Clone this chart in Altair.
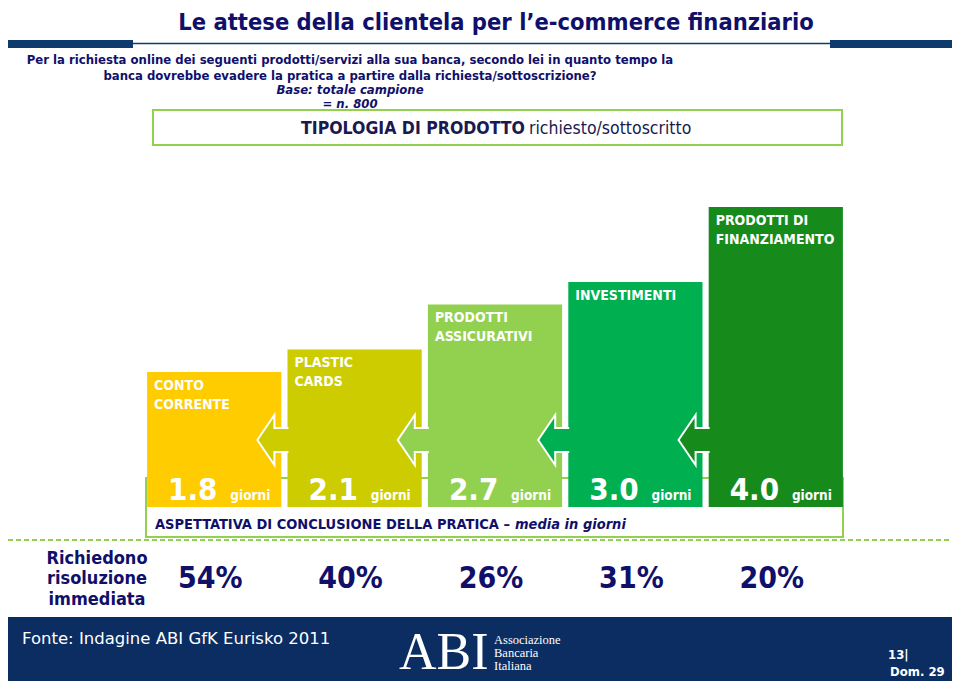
import altair as alt
import pandas as pd

# ---------------- data ----------------
categories = ["CONTO\nCORRENTE", "PLASTIC\nCARDS", "PRODOTTI\nASSICURATIVI",
              "INVESTIMENTI", "PRODOTTI DI\nFINANZIAMENTO"]
avg_days = [1.8, 2.1, 2.7, 3.0, 4.0]
immediate_pct = [54, 40, 26, 31, 20]
bar_colors = ["#FFCC00", "#CCCC00", "#92D050", "#00B050", "#168B1C"]

# ---------------- styling ----------------
W, H = 944, 673
F = "DejaVu Sans Condensed"
NAVY = "#10106A"
RULE = "#0E3A6D"
FOOT = "#0B2D62"
LGREEN = "#92D050"

df = pd.DataFrame({"cat": categories, "days": avg_days,
                   "pct": immediate_pct, "i": list(range(len(categories)))})
arrow_df = pd.DataFrame({"b": [i + 0.5 for i in range(len(categories) - 1)],
                         "cat": categories[1:]})

xscale = alt.Scale(domain=[-1.4687, 5.2550], nice=False, zero=False)
yscale = alt.Scale(domain=[-2.32, 6.6533], nice=False, zero=False)
cscale = alt.Scale(domain=categories, range=bar_colors)

base = alt.Chart(df).transform_calculate(
    x0="datum.i - 0.478", x1="datum.i + 0.478", plab="datum.pct + '%'")

one = pd.DataFrame({"k": [0]})


def T(text, x, y, size, weight="normal", style="normal", color=NAVY,
      align="left", baseline="alphabetic", font=F, **kw):
    return alt.Chart(one).mark_text(
        text=text, align=align, baseline=baseline, fontSize=size,
        fontWeight=weight, fontStyle=style, color=color, font=font, **kw
    ).encode(x=alt.value(x), y=alt.value(y))


def R(x, x2, y, y2, fill, stroke=None, sw=0):
    kw = dict(fill=fill, opacity=1)
    if stroke:
        kw.update(stroke=stroke, strokeWidth=sw)
    return alt.Chart(one).mark_rect(**kw).encode(
        x=alt.value(x), x2=alt.value(x2), y=alt.value(y), y2=alt.value(y2))


def L(x, x2, y, color, sw=1, dash=None):
    kw = dict(color=color, strokeWidth=sw)
    if dash:
        kw["strokeDash"] = dash
    return alt.Chart(one).mark_rule(**kw).encode(
        x=alt.value(x), x2=alt.value(x2), y=alt.value(y))


layers = []
# header rule
layers += [R(0, 125, 32, 40, RULE), R(822, W, 32, 40, RULE), L(125, 822, 35.5, RULE, 1.5)]
# title and question
layers += [
    T("Le attese della clientela per l’e-commerce finanziario", 488, 22, 23.5,
      weight="bold", align="center"),
    T("Per la richiesta online dei seguenti prodotti/servizi alla sua banca, secondo lei in quanto tempo la",
      342, 56, 13, weight="bold", align="center"),
    T("banca dovrebbe evadere la pratica a partire dalla richiesta/sottoscrizione?",
      342, 72, 13, weight="bold", align="center"),
    T("Base: totale campione", 342, 86, 13, weight="bold", style="italic", align="center"),
    T("= n. 800", 342, 100, 13, weight="bold", style="italic", align="center"),
]
# TIPOLOGIA box
layers += [
    R(145, 834, 102, 137, "white", LGREEN, 2),
    T("TIPOLOGIA DI PRODOTTO", 517, 126, 17.5, weight="bold", align="right", color="#1A1A50"),
    T("richiesto/sottoscritto", 521, 126, 17.5, align="left", color="#1A1A50"),
]
# ASPETTATIVA box (behind bars)
layers += [R(138, 835, 470, 529, "white", LGREEN, 2)]

# bars
bars = base.mark_rect(opacity=1).encode(
    x=alt.X("x0:Q", scale=xscale, axis=None),
    x2="x1:Q",
    y=alt.Y("days:Q", scale=yscale, axis=None),
    y2=alt.datum(0),
    color=alt.Color("cat:N", scale=cscale, legend=None),
)
ARROW = ("M 0.154 -0.46 L -0.385 -0.46 L -0.385 -0.96 L -1.04 0 "
         "L -0.385 0.96 L -0.385 0.46 L 0.154 0.46")
arrows = alt.Chart(arrow_df).mark_point(
    shape=ARROW, size=2704, filled=True, stroke="white", strokeWidth=2,
    strokeOpacity=1, fillOpacity=1, opacity=1,
).encode(
    x=alt.X("b:Q", scale=xscale, axis=None),
    y=alt.value(432),
    fill=alt.Fill("cat:N", scale=cscale, legend=None),
)
cat_labels = base.mark_text(
    align="left", baseline="top", dx=7, dy=7, lineBreak="\n", lineHeight=19,
    font=F, fontSize=14, fontWeight="bold", color="white",
).encode(x=alt.X("x0:Q", scale=xscale), y=alt.Y("days:Q", scale=yscale), text="cat:N")
num_labels = base.mark_text(
    align="left", baseline="alphabetic", dx=21, dy=-7, font=F, fontSize=31,
    fontWeight="bold", color="white",
).encode(x=alt.X("x0:Q", scale=xscale), y=alt.datum(0),
         text=alt.Text("days:Q", format=".1f"))
giorni = base.mark_text(
    text="giorni", align="right", baseline="alphabetic", dx=-11, dy=-7, font=F,
    fontSize=13.5, fontWeight="bold", color="white",
).encode(x=alt.X("x1:Q", scale=xscale), y=alt.datum(0))
pct_labels = base.mark_text(
    align="center", baseline="middle", dx=-4, font=F, fontSize=30,
    fontWeight="bold", color=NAVY,
).encode(x=alt.X("i:Q", scale=xscale), y=alt.value(571), text="plab:N")

layers += [bars, arrows, cat_labels, num_labels, giorni]

layers += [
    T("ASPETTATIVA DI CONCLUSIONE DELLA PRATICA –", 147, 521, 14.5, weight="bold"),
    T("media in giorni", 507, 521, 14.5, weight="bold", style="italic"),
    L(0, W, 532, LGREEN, 2, [5, 3]),
    T("Richiedono", 89, 551, 18, weight="bold", align="center", baseline="middle"),
    T("risoluzione", 89, 571, 18, weight="bold", align="center", baseline="middle"),
    T("immediata", 89, 592, 18, weight="bold", align="center", baseline="middle"),
    pct_labels,
]
# footer
layers += [
    R(0, W, 609, H + 5, FOOT),
    T("Fonte: Indagine ABI GfK Eurisko 2011", 14, 636, 16.5, color="white", font="DejaVu Sans"),
    T("ABI", 391, 661, 52, color="white", font="Liberation Serif"),
    T("Associazione", 486, 636, 12.5, color="white", font="Liberation Serif"),
    T("Bancaria", 486, 649, 12.5, color="white", font="Liberation Serif"),
    T("Italiana", 486, 662, 12.5, color="white", font="Liberation Serif"),
    T("13|", 880, 651, 13, weight="bold", color="white"),
    T("Dom. 29", 882, 668, 13, weight="bold", color="white"),
]

chart = alt.layer(*layers).properties(
    width=W, height=H, autosize="none", padding=0, background="white"
).configure_view(stroke=None)

chart.save("out.html", embed_options={"renderer": "svg", "actions": False})
